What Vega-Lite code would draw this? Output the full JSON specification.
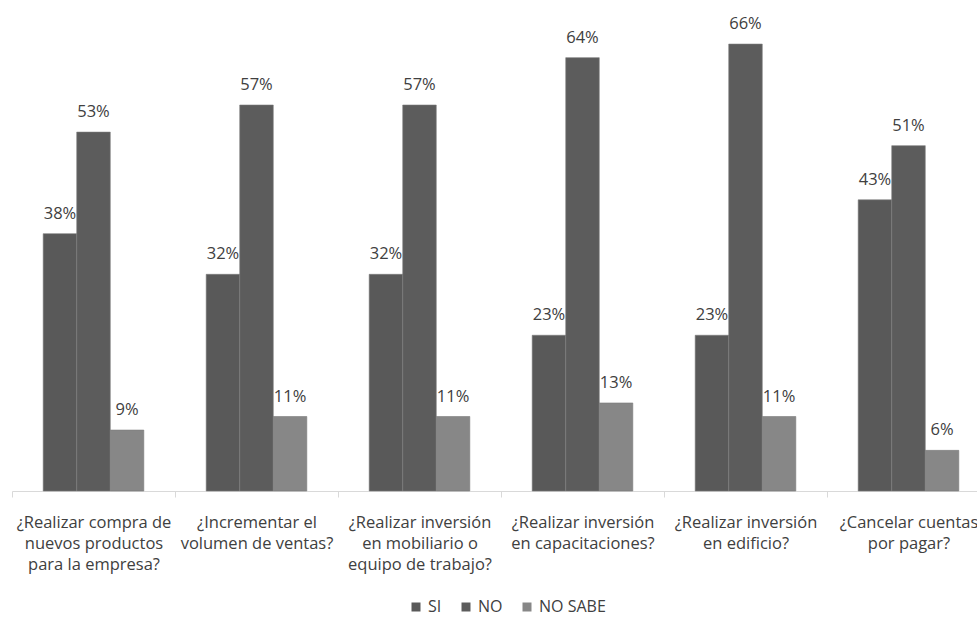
{
  "$schema": "https://vega.github.io/schema/vega-lite/v6.json",
  "autosize": "none",
  "padding": {"left": 12, "top": 17, "right": 0, "bottom": 126},
  "width": 978,
  "height": 474,
  "background": "white",
  "config": {"view": {"stroke": null}, "font": "Open Sans"},
  "data": {"values": [
    {"q": "¿Realizar compra de|nuevos productos|para la empresa?", "r": "SI", "v": 0.38},
    {"q": "¿Realizar compra de|nuevos productos|para la empresa?", "r": "NO", "v": 0.53},
    {"q": "¿Realizar compra de|nuevos productos|para la empresa?", "r": "NO SABE", "v": 0.09},
    {"q": "¿Incrementar el|volumen de ventas?", "r": "SI", "v": 0.32},
    {"q": "¿Incrementar el|volumen de ventas?", "r": "NO", "v": 0.57},
    {"q": "¿Incrementar el|volumen de ventas?", "r": "NO SABE", "v": 0.11},
    {"q": "¿Realizar inversión|en mobiliario o|equipo de trabajo?", "r": "SI", "v": 0.32},
    {"q": "¿Realizar inversión|en mobiliario o|equipo de trabajo?", "r": "NO", "v": 0.57},
    {"q": "¿Realizar inversión|en mobiliario o|equipo de trabajo?", "r": "NO SABE", "v": 0.11},
    {"q": "¿Realizar inversión|en capacitaciones?", "r": "SI", "v": 0.23},
    {"q": "¿Realizar inversión|en capacitaciones?", "r": "NO", "v": 0.64},
    {"q": "¿Realizar inversión|en capacitaciones?", "r": "NO SABE", "v": 0.13},
    {"q": "¿Realizar inversión|en edificio?", "r": "SI", "v": 0.23},
    {"q": "¿Realizar inversión|en edificio?", "r": "NO", "v": 0.66},
    {"q": "¿Realizar inversión|en edificio?", "r": "NO SABE", "v": 0.11},
    {"q": "¿Cancelar cuentas|por pagar?", "r": "SI", "v": 0.43},
    {"q": "¿Cancelar cuentas|por pagar?", "r": "NO", "v": 0.51},
    {"q": "¿Cancelar cuentas|por pagar?", "r": "NO SABE", "v": 0.06}
  ]},
  "encoding": {
    "x": {
      "field": "q", "type": "nominal", "sort": null,
      "scale": {"paddingInner": 0, "paddingOuter": 0},
      "axis": {
        "title": null, "labelAngle": 0, "tickBand": "extent",
        "labelExpr": "split(datum.label, '|')",
        "labelLineHeight": 21, "labelFontSize": 16.5, "labelColor": "#404040",
        "labelPadding": 17, "labelLimit": 300,
        "domainColor": "#d9d9d9", "tickColor": "#d9d9d9", "tickSize": 6,
        "labelBaseline": "top"
      }
    },
    "xOffset": {"field": "r", "type": "nominal", "sort": ["SI", "NO", "NO SABE"],
      "scale": {"paddingInner": 0, "paddingOuter": 0.93}},
    "y": {
      "field": "v", "type": "quantitative",
      "scale": {"domain": [0, 0.7], "nice": false},
      "axis": null
    }
  },
  "layer": [
    {
      "mark": {"type": "bar", "stroke": "#7a7a7a", "strokeWidth": 0.6},
      "encoding": {
        "color": {
          "field": "r", "type": "nominal", "sort": ["SI", "NO", "NO SABE"],
          "scale": {"domain": ["SI", "NO", "NO SABE"], "range": ["#595959", "#5c5c5c", "#878787"]},
          "legend": {
            "title": null, "orient": "none", "legendX": 396, "legendY": 582,
            "direction": "horizontal",
            "symbolType": "square", "symbolSize": 81, "symbolStrokeWidth": 0,
            "labelFontSize": 16, "labelColor": "#404040", "labelOffset": 4,
            "columnPadding": 16, "symbolOffset": 0
          }
        }
      }
    },
    {
      "mark": {"type": "text", "baseline": "bottom", "dy": -12, "fontSize": 16.5, "color": "#404040"},
      "encoding": {
        "text": {"field": "v", "type": "quantitative", "format": ".0%"}
      }
    }
  ]
}
